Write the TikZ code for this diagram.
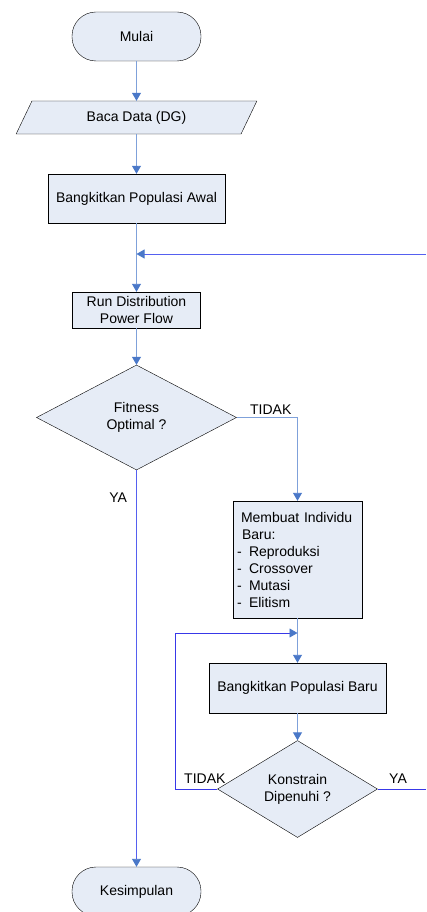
\documentclass[tikz,border=0pt]{standalone}
\usepackage{fontspec}
\setmainfont{Liberation Sans}
\usetikzlibrary{shapes.geometric,arrows.meta}

\definecolor{boxfill}{HTML}{E6ECF6}
\definecolor{linelight}{HTML}{7FA1DA}
\definecolor{linedark}{HTML}{5560F0}
\definecolor{loopblue}{HTML}{3838E8}
\definecolor{tipblue}{HTML}{4A78C8}

\newcommand{\butir}[1]{\makebox[12pt][l]{-}#1}

\tikzset{
  base/.style={draw=black, fill=boxfill, font=\fontsize{14}{17}\selectfont, align=center, inner sep=0pt},
  terminal/.style={base, rectangle, rounded corners=24pt, minimum width=129pt, minimum height=49pt},
  iobox/.style={base, trapezium, trapezium left angle=60, trapezium right angle=120, trapezium stretches=true, minimum width=241pt, minimum height=33pt},
  procbox/.style={base, rectangle},
  decision/.style={base, diamond},
  flow/.style={draw=linelight, line width=0.9pt, -{Triangle[length=8pt,width=9pt,color=tipblue]}},
  feedback/.style={flow, draw=linedark},
  lbl/.style={font=\fontsize{14}{16}\selectfont, inner sep=1pt}
}

\begin{document}
\begin{tikzpicture}[x=1pt, y=-1pt]
  \useasboundingbox (0,0) rectangle (426,912);

  \node[terminal] (mulai) at (136.5,36.5) {Mulai};
  \node[iobox] (baca) at (136.5,117.5) {Baca Data (DG)};
  \node[procbox, minimum width=177pt, minimum height=49pt] (awal) at (136.5,198.5) {Bangkitkan Populasi Awal};
  \coordinate (masuk) at (136.5,254);
  \coordinate (kanan1) at (426,254);
  \node[procbox, minimum width=128pt, minimum height=36pt] (run) at (136.5,310) {Run Distribution\\Power Flow};
  \node[decision, minimum width=200pt, minimum height=105pt] (fitness) at (136.5,417.5) {Fitness\\Optimal ?};
  \node[procbox, minimum width=129pt, minimum height=117pt, align=left, text width=121pt] (individu) at (297.5,559.5)
    {\hspace{4pt}Membuat Individu\\\hspace{5pt}Baru:\\\butir{Reproduksi}\\\butir{Crossover}\\\butir{Mutasi}\\\butir{Elitism}};
  \node[procbox, minimum width=177pt, minimum height=50pt] (baru) at (297.5,688) {Bangkitkan Populasi Baru};
  \node[decision, minimum width=160pt, minimum height=96pt] (konstrain) at (297.5,789) {Konstrain\\Dipenuhi ?};
  \coordinate (kanan2) at (426,789);
  \coordinate (balik) at (297.5,633);
  \node[terminal] (kesimpulan) at (136.5,891.5) {Kesimpulan};

  \draw[flow] (mulai) -- (baca);
  \draw[flow] (baca) -- (awal);
  \draw[flow] (awal) -- (run);
  \draw[feedback] (kanan1) -- (masuk);
  \draw[flow] (run) -- (fitness);
  \draw[flow] (fitness.east) -| node[lbl, pos=0.28, above=2pt] {TIDAK} (individu.north);
  \draw[feedback] (fitness.south) -- node[lbl, pos=0.07, left=8pt] {YA} (kesimpulan.north);
  \draw[flow] (individu) -- (baru);
  \draw[flow] (baru) -- (konstrain);
  \draw[feedback, draw=loopblue, line width=0.8pt] (konstrain.west) -- ++(-42,0) |- (balik);
  \draw[draw=loopblue, line width=0.8pt] (konstrain.east) -- (kanan2);
  \node[lbl, anchor=south west] (tidak2) at (183,785) {TIDAK};
  \node[lbl, anchor=south west] (ya2) at (388,785) {YA};
\end{tikzpicture}
\end{document}
